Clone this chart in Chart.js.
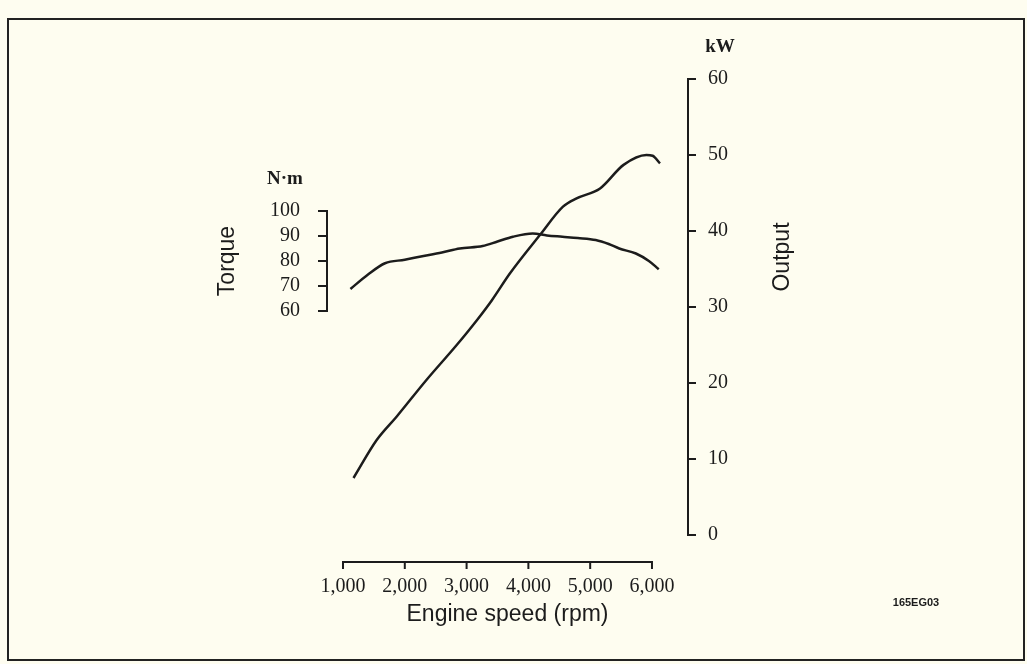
<!DOCTYPE html>
<html>
<head>
<meta charset="utf-8">
<script src="https://cdn.jsdelivr.net/npm/chart.js@4"></script>
<style>
  html, body { margin: 0; padding: 0; background: #fefdf0; }
  body { width: 1027px; height: 664px; position: relative; overflow: hidden; }
  #frame { position: absolute; left: 7px; top: 18px; width: 1018px; height: 643px; border: 2px solid #222; box-sizing: border-box; }
  #engineChart { position: absolute; left: 0; top: 0; }
</style>
</head>
<body>
<div id="frame"></div>
<canvas id="engineChart" width="1027" height="664"></canvas>
<script>
// torque curve (N·m vs rpm)
const torqueRpm = [1120, 1400, 1680, 2000, 2240, 2600, 2890, 3260, 3500, 3750, 4070, 4300, 4550, 4800, 5090, 5300, 5470, 5740, 5950, 6110];
const torqueNm  = [68.8, 74.5, 79.1, 80.5, 81.7, 83.4, 85.0, 86.0, 87.8, 89.7, 91.0, 90.2, 89.7, 89.2, 88.4, 86.8, 85.0, 83.0, 80.0, 76.7];

// output curve (kW vs rpm)
const outputRpm = [1170, 1545, 1870, 2350, 2840, 3160, 3410, 3700, 4190, 4560, 4780, 5160, 5540, 5910, 6010, 6130];
const outputKw  = [7.5, 12.5, 15.6, 20.4, 25.0, 28.2, 30.9, 34.4, 39.5, 43.2, 44.3, 45.6, 48.7, 50.0, 49.9, 48.9];

const xTicks = [1000, 2000, 3000, 4000, 5000, 6000];
const torqueTicks = [60, 70, 80, 90, 100];
const outputTicks = [0, 10, 20, 30, 40, 50, 60];

const ink = '#1c1c1c';
const tickFont = { family: '"Liberation Serif", "Times New Roman", serif', size: 20 };
const titleFont = '23px "Liberation Sans", Arial, sans-serif';

const axisDecor = {
  id: 'axisDecor',
  beforeDatasetsDraw(chart) {
    const ctx = chart.ctx;
    const area = chart.chartArea;
    const x = chart.scales.x;
    const yT = chart.scales.yTorque;
    const yP = chart.scales.yOutput;
    ctx.save();
    ctx.strokeStyle = ink;
    ctx.lineWidth = 2;
    ctx.lineCap = 'square';

    // torque bracket axis
    ctx.beginPath();
    ctx.moveTo(area.left, yT.getPixelForValue(torqueTicks[0]));
    ctx.lineTo(area.left, yT.getPixelForValue(torqueTicks[torqueTicks.length - 1]));
    torqueTicks.forEach(v => {
      const py = yT.getPixelForValue(v);
      ctx.moveTo(area.left, py);
      ctx.lineTo(area.left - 8, py);
    });
    ctx.stroke();

    // output axis
    ctx.beginPath();
    ctx.moveTo(area.right, yP.getPixelForValue(outputTicks[0]));
    ctx.lineTo(area.right, yP.getPixelForValue(outputTicks[outputTicks.length - 1]));
    outputTicks.forEach(v => {
      const py = yP.getPixelForValue(v);
      ctx.moveTo(area.right, py);
      ctx.lineTo(area.right + 7, py);
    });
    ctx.stroke();

    // engine speed axis, set below the plot
    const ay = area.bottom + 27;
    ctx.beginPath();
    ctx.moveTo(x.getPixelForValue(xTicks[0]), ay);
    ctx.lineTo(x.getPixelForValue(xTicks[xTicks.length - 1]), ay);
    xTicks.forEach(v => {
      const px = x.getPixelForValue(v);
      ctx.moveTo(px, ay);
      ctx.lineTo(px, ay + 6);
    });
    ctx.stroke();

    // units and titles
    ctx.fillStyle = ink;
    ctx.textAlign = 'center';
    ctx.textBaseline = 'middle';
    ctx.font = 'bold 19px "Liberation Serif", serif';
    ctx.fillText('N·m', area.left - 42, yT.getPixelForValue(100) - 32);
    ctx.fillText('kW', area.right + 32, yP.getPixelForValue(60) - 32);

    ctx.font = titleFont;
    ctx.save();
    ctx.translate(area.left - 99, yT.getPixelForValue(80));
    ctx.rotate(-Math.PI / 2);
    ctx.fillText('Torque', 0, 0);
    ctx.restore();

    ctx.save();
    ctx.translate(area.right + 95, area.top + 178);
    ctx.rotate(-Math.PI / 2);
    ctx.fillText('Output', 0, 0);
    ctx.restore();

    ctx.font = 'bold 11px "Liberation Sans", Arial, sans-serif';
    ctx.fillText('165EG03', 916, 603);
    ctx.restore();
  }
};

const ctx = document.getElementById('engineChart').getContext('2d');
const engineChart = new Chart(ctx, {
  type: 'line',
  data: {
    datasets: [{
      label: 'Torque',
      data: torqueRpm.map((r, i) => ({ x: r, y: torqueNm[i] })),
      yAxisID: 'yTorque',
      borderColor: ink,
      borderWidth: 2.5,
      pointRadius: 0,
      tension: 0.4,
      cubicInterpolationMode: 'monotone'
    }, {
      label: 'Output',
      data: outputRpm.map((r, i) => ({ x: r, y: outputKw[i] })),
      yAxisID: 'yOutput',
      borderColor: ink,
      borderWidth: 2.5,
      pointRadius: 0,
      tension: 0.4,
      cubicInterpolationMode: 'monotone'
    }]
  },
  options: {
    responsive: false,
    animation: false,
    devicePixelRatio: 1,
    layout: { padding: { top: 79, left: 0, right: 0, bottom: 0 } },
    scales: {
      x: {
        type: 'linear',
        position: 'bottom',
        min: 741,
        max: 6583,
        afterBuildTicks: s => { s.ticks = xTicks.map(v => ({ value: v })); },
        afterFit: s => { s.height = 129; },
        grid: { display: false, drawTicks: false },
        border: { display: false },
        ticks: {
          padding: 40,
          font: tickFont,
          color: ink,
          autoSkip: false,
          maxRotation: 0,
          callback: v => v.toLocaleString('en-US')
        },
        title: {
          display: true,
          text: 'Engine speed (rpm)',
          color: ink,
          font: { family: '"Liberation Sans", Arial, sans-serif', size: 23 },
          padding: { top: 0, bottom: 36 }
        }
      },
      yTorque: {
        type: 'linear',
        position: 'left',
        min: -29.6,
        max: 152.8,
        afterBuildTicks: s => { s.ticks = torqueTicks.map(v => ({ value: v })); },
        afterFit: s => { s.width = 327; },
        grid: { display: false, drawTicks: false },
        border: { display: false },
        ticks: { padding: 27, font: tickFont, color: ink }
      },
      yOutput: {
        type: 'linear',
        position: 'right',
        min: 0,
        max: 60,
        afterBuildTicks: s => { s.ticks = outputTicks.map(v => ({ value: v })); },
        afterFit: s => { s.width = 339; },
        grid: { display: false, drawTicks: false },
        border: { display: false },
        ticks: { padding: 20, font: tickFont, color: ink }
      }
    },
    plugins: {
      legend: { display: false },
      tooltip: { enabled: false }
    }
  },
  plugins: [axisDecor]
});
</script>
</body>
</html>
